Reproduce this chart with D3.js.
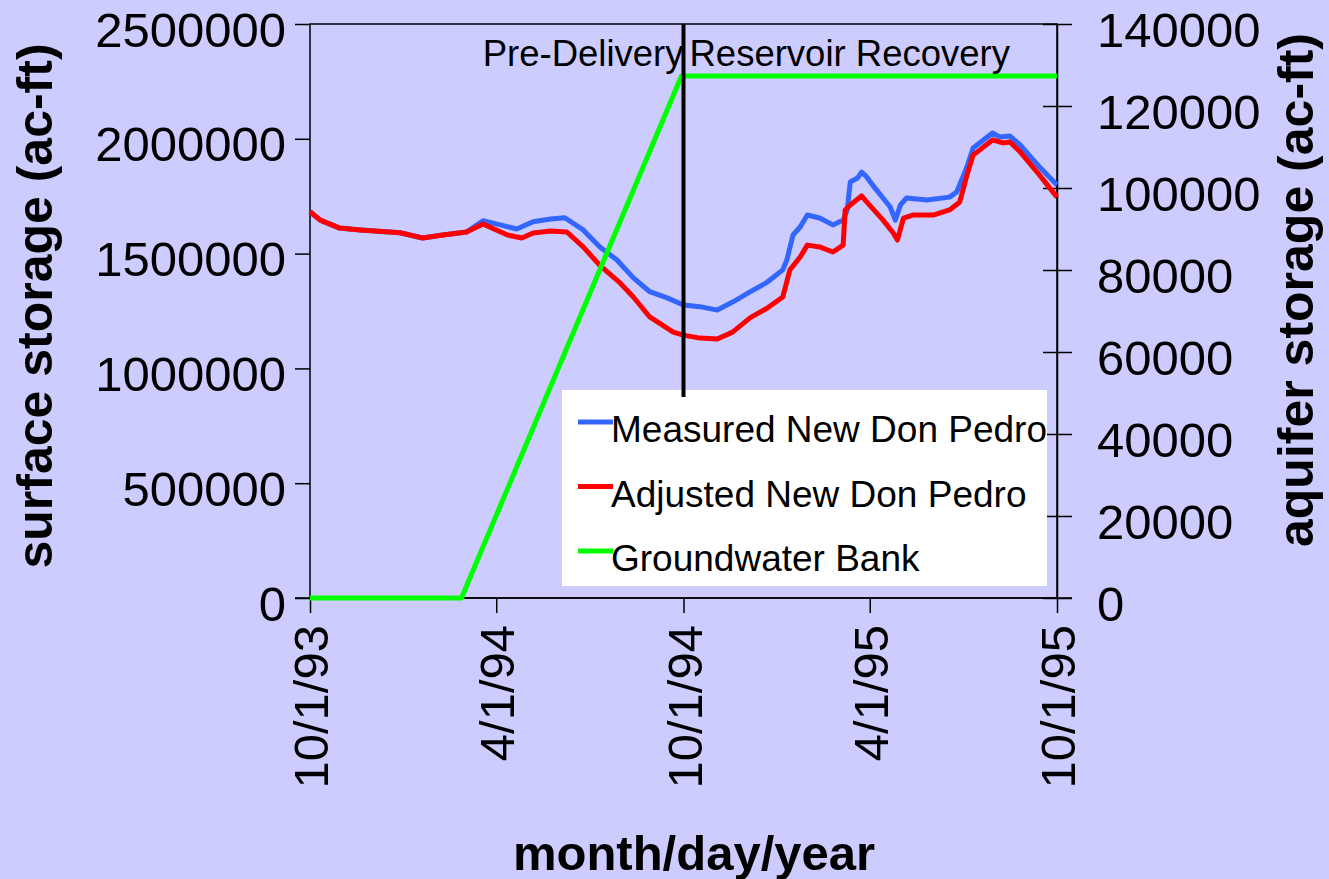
<!DOCTYPE html>
<html lang="en">
<head>
    <meta charset="UTF-8">
    <title>New Don Pedro storage and groundwater bank</title>
    <script src="https://cdnjs.cloudflare.com/ajax/libs/d3/7.8.5/d3.min.js"></script>
    <style>
        body {
            margin: 0;
            padding: 0;
            background-color: #ccccff;
            font-family: "Liberation Sans", Arial, sans-serif;
        }
        svg { display: block; }
    </style>
</head>
<body>
    <div id="chart"></div>

    <script>
        // surface storage, New Don Pedro (ac-ft)
        const measured = [
            ["1993-10-01", 1682000], ["1993-10-11", 1646000], ["1993-10-30", 1611000], ["1993-11-19", 1603000],
            ["1993-12-28", 1591000], ["1994-01-19", 1568000], ["1994-02-08", 1581000], ["1994-03-03", 1594000],
            ["1994-03-19", 1643000], ["1994-04-05", 1625000], ["1994-04-21", 1607000], ["1994-05-07", 1639000],
            ["1994-05-24", 1651000], ["1994-06-07", 1656000], ["1994-06-25", 1603000], ["1994-07-11", 1530000],
            ["1994-07-28", 1472000], ["1994-08-13", 1394000], ["1994-08-29", 1334000], ["1994-09-15", 1307000],
            ["1994-10-01", 1276000], ["1994-10-17", 1269000], ["1994-11-03", 1254000], ["1994-11-18", 1289000],
            ["1994-12-05", 1333000], ["1994-12-22", 1376000], ["1995-01-06", 1429000], ["1995-01-10", 1472000],
            ["1995-01-16", 1581000], ["1995-01-23", 1616000], ["1995-01-30", 1668000], ["1995-02-11", 1655000],
            ["1995-02-24", 1625000], ["1995-03-06", 1646000], ["1995-03-10", 1690000], ["1995-03-13", 1812000],
            ["1995-03-20", 1829000], ["1995-03-24", 1855000], ["1995-03-29", 1834000], ["1995-04-06", 1786000],
            ["1995-04-21", 1703000], ["1995-04-26", 1646000], ["1995-05-01", 1712000], ["1995-05-07", 1742000],
            ["1995-05-27", 1733000], ["1995-06-18", 1746000], ["1995-06-25", 1768000], ["1995-07-05", 1877000],
            ["1995-07-11", 1960000], ["1995-07-30", 2025000], ["1995-08-06", 2008000], ["1995-08-16", 2012000],
            ["1995-08-26", 1973000], ["1995-09-14", 1877000], ["1995-10-01", 1799000]
        ];

        const adjusted = [
            ["1993-10-01", 1682000], ["1993-10-11", 1646000], ["1993-10-30", 1611000], ["1993-11-19", 1603000],
            ["1993-12-28", 1591000], ["1994-01-19", 1568000], ["1994-02-08", 1581000], ["1994-03-03", 1594000],
            ["1994-03-19", 1629000], ["1994-04-12", 1581000], ["1994-04-26", 1568000], ["1994-05-07", 1590000],
            ["1994-05-24", 1598000], ["1994-06-09", 1594000], ["1994-06-25", 1529000], ["1994-07-11", 1450000],
            ["1994-07-31", 1372000], ["1994-08-13", 1311000], ["1994-08-29", 1224000], ["1994-09-21", 1158000],
            ["1994-10-01", 1145000], ["1994-10-17", 1132000], ["1994-11-03", 1128000], ["1994-11-18", 1158000],
            ["1994-12-05", 1220000], ["1994-12-22", 1263000], ["1995-01-06", 1311000], ["1995-01-13", 1429000],
            ["1995-01-23", 1485000], ["1995-01-30", 1537000], ["1995-02-11", 1529000], ["1995-02-24", 1507000],
            ["1995-03-06", 1537000], ["1995-03-08", 1690000], ["1995-03-13", 1712000], ["1995-03-24", 1751000],
            ["1995-03-29", 1725000], ["1995-04-14", 1646000], ["1995-04-24", 1590000], ["1995-04-28", 1559000],
            ["1995-05-04", 1655000], ["1995-05-13", 1668000], ["1995-06-02", 1668000], ["1995-06-18", 1690000],
            ["1995-06-28", 1725000], ["1995-07-05", 1842000], ["1995-07-11", 1929000], ["1995-07-30", 1995000],
            ["1995-08-09", 1982000], ["1995-08-16", 1986000], ["1995-08-26", 1943000], ["1995-09-14", 1842000],
            ["1995-10-01", 1746000]
        ];

        // aquifer storage (ac-ft), right axis
        const groundwater = [
            ["1993-10-01", 0], ["1994-02-26", 0], ["1994-09-29", 127300], ["1995-10-01", 127300]
        ];

        const xTickDates = ["1993-10-01", "1994-04-01", "1994-10-01", "1995-04-01", "1995-10-01"];
        const leftTicks = [0, 500000, 1000000, 1500000, 2000000, 2500000];
        const rightTicks = [0, 20000, 40000, 60000, 80000, 100000, 120000, 140000];
        const deliveryDate = "1994-10-01";

        const seriesNames = ["Measured New Don Pedro", "Adjusted New Don Pedro", "Groundwater Bank"];
        const seriesColors = ["#3366ff", "#ff0000", "#00ff00"];

        const width = 1329;
        const height = 879;
        const margin = {top: 24, right: 272, bottom: 281, left: 310};

        const parse = d3.timeParse("%Y-%m-%d");
        const fmt = d3.timeFormat("%-m/%-d/%y");

        const svg = d3.select("#chart")
            .append("svg")
            .attr("width", width)
            .attr("height", height);

        svg.append("rect")
            .attr("width", width)
            .attr("height", height)
            .attr("fill", "#ccccff");

        const x = d3.scaleTime()
            .domain([parse("1993-10-01"), parse("1995-10-01")])
            .range([margin.left, width - margin.right]);

        const yL = d3.scaleLinear()
            .domain([0, 2500000])
            .range([height - margin.bottom, margin.top]);

        const yR = d3.scaleLinear()
            .domain([0, 140000])
            .range([height - margin.bottom, margin.top]);

        // plot frame
        svg.append("rect")
            .attr("x", margin.left)
            .attr("y", margin.top)
            .attr("width", x.range()[1] - x.range()[0])
            .attr("height", yL.range()[0] - yL.range()[1])
            .attr("fill", "none")
            .attr("stroke", "#000")
            .attr("stroke-width", 1.5);

        const tickFont = "49px";

        // left axis
        const gL = svg.append("g")
            .attr("transform", `translate(${margin.left},0)`)
            .call(d3.axisLeft(yL).tickValues(leftTicks).tickSize(15).tickSizeOuter(0).tickPadding(9).tickFormat(d3.format("d")));
        gL.selectAll("text").attr("font-size", tickFont).attr("dy", "0.45em");

        // right axis, ticks cross the axis line
        const gR = svg.append("g")
            .attr("transform", `translate(${x.range()[1]},0)`)
            .call(d3.axisRight(yR).tickValues(rightTicks).tickSize(15).tickSizeOuter(0).tickPadding(25).tickFormat(d3.format("d")));
        gR.selectAll(".tick line").attr("x1", -14);
        gR.selectAll("text").attr("font-size", tickFont).attr("dy", "0.45em");

        // bottom axis, rotated labels
        const gB = svg.append("g")
            .attr("transform", `translate(0,${yL.range()[0]})`)
            .call(d3.axisBottom(x).tickValues(xTickDates.map(parse)).tickSize(15).tickSizeOuter(0).tickFormat(fmt));
        gB.selectAll("text")
            .attr("font-size", tickFont)
            .attr("text-anchor", "end")
            .attr("transform", "rotate(-90)")
            .attr("x", -27)
            .attr("y", 0)
            .attr("dy", "0.36em");

        [gL, gR, gB].forEach(g => {
            g.selectAll("path.domain").attr("stroke", "#000").attr("stroke-width", 1.5);
            g.selectAll(".tick line").attr("stroke", "#000").attr("stroke-width", 1.5);
            g.selectAll("text").attr("fill", "#000").attr("font-family", "Liberation Sans, Arial, sans-serif");
        });
        gL.select("path.domain").remove();
        gB.select("path.domain").attr("d", `M${margin.left - 15},0H${x.range()[1] + 15}`);

        // data lines
        const lineL = d3.line().x(d => x(parse(d[0]))).y(d => yL(d[1]));
        const lineR = d3.line().x(d => x(parse(d[0]))).y(d => yR(d[1]));

        svg.append("path").datum(measured)
            .attr("d", lineL).attr("fill", "none")
            .attr("stroke", seriesColors[0]).attr("stroke-width", 5).attr("stroke-linejoin", "round");
        svg.append("path").datum(adjusted)
            .attr("d", lineL).attr("fill", "none")
            .attr("stroke", seriesColors[1]).attr("stroke-width", 5).attr("stroke-linejoin", "round");
        svg.append("path").datum(groundwater)
            .attr("d", lineR).attr("fill", "none")
            .attr("stroke", seriesColors[2]).attr("stroke-width", 5).attr("stroke-linejoin", "round");

        // legend
        const legend = svg.append("g").attr("transform", "translate(562,390)");
        legend.append("rect")
            .attr("width", 485)
            .attr("height", 196)
            .attr("fill", "#fff");
        seriesNames.forEach((name, i) => {
            const yy = 32 + i * 64.5;
            legend.append("line")
                .attr("x1", 16).attr("x2", 51)
                .attr("y1", yy).attr("y2", yy)
                .attr("stroke", seriesColors[i])
                .attr("stroke-width", 5);
            legend.append("text")
                .attr("x", 49)
                .attr("y", yy + 20)
                .attr("font-size", "37px")
                .attr("fill", "#000")
                .text(name);
        });

        // delivery marker
        const xd = x(parse(deliveryDate));
        svg.append("line")
            .attr("x1", xd).attr("x2", xd)
            .attr("y1", margin.top).attr("y2", 397)
            .attr("stroke", "#000")
            .attr("stroke-width", 4);
        svg.append("text")
            .attr("x", xd).attr("y", 66)
            .attr("text-anchor", "end")
            .attr("font-size", "36.5px")
            .text("Pre-Delivery");
        svg.append("text")
            .attr("x", xd + 6).attr("y", 66)
            .attr("font-size", "36.5px")
            .text("Reservoir Recovery");

        // axis titles
        svg.append("text")
            .attr("transform", `translate(52,306) rotate(-90)`)
            .attr("text-anchor", "middle")
            .attr("font-size", "50px")
            .attr("font-weight", "bold")
            .text("surface storage (ac-ft)");
        svg.append("text")
            .attr("transform", `translate(1313,290) rotate(-90)`)
            .attr("text-anchor", "middle")
            .attr("font-size", "50px")
            .attr("font-weight", "bold")
            .text("aquifer storage (ac-ft)");
        svg.append("text")
            .attr("x", 694).attr("y", 870)
            .attr("text-anchor", "middle")
            .attr("font-size", "49px")
            .attr("font-weight", "bold")
            .text("month/day/year");
    </script>
</body>
</html>
